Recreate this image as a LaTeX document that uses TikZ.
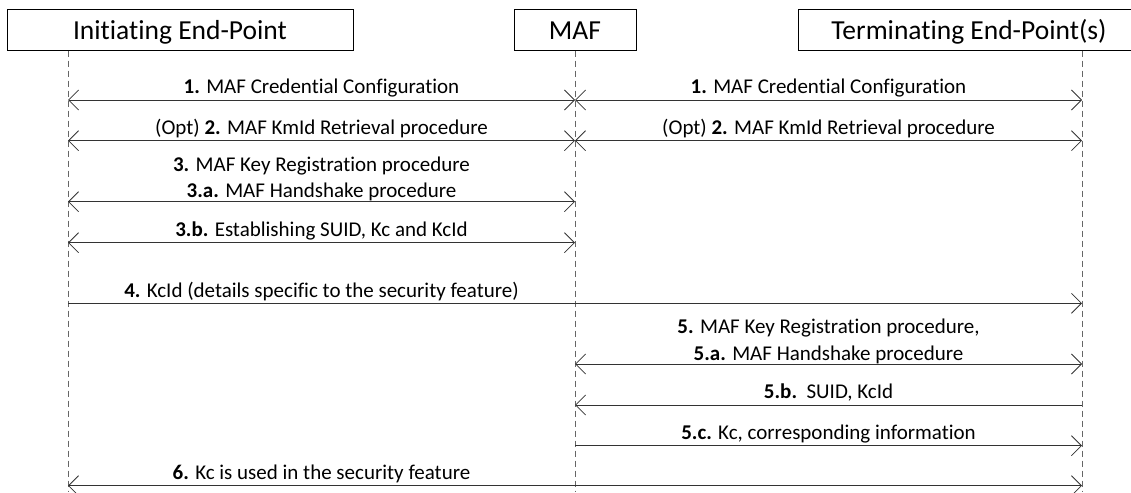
\documentclass[tikz,border=0pt]{standalone}
\usepackage{fontspec}
\setmainfont[Ligatures={NoCommon}]{Carlito}
\usetikzlibrary{arrows.meta}
\begin{document}
\begin{tikzpicture}[x=1pt,y=-1pt,
  >={Straight Barb[length=10pt,width=20pt]},
  head/.style={draw=black, line width=0.8pt, minimum height=41.4pt, inner sep=0pt,
    text height=26pt, text depth=6pt, font=\fontsize{27.5}{31}\selectfont},
  life/.style={draw=black!60, line width=0.8pt, dash pattern=on 6.5pt off 3.5pt},
  msg/.style={draw=black!80, line width=0.8pt},
  lbl/.style={anchor=south, inner sep=0pt, text depth=6pt, font=\fontsize{21}{26.5}\selectfont},
  lbltwo/.style={anchor=south, inner sep=0pt, align=center, font=\fontsize{21}{26.5}\selectfont}]
\useasboundingbox (0,0) rectangle (1131,492);
% header boxes
\node[head, minimum width=346pt] (ie) at (180,30) {Initiating End-Point};
\node[head, minimum width=122pt] (maf) at (575,30) {MAF};
\node[head, minimum width=342pt] (te) at (969,30) {Terminating End-Point(s)};
% lifelines
\coordinate (ieT) at (68,50.7);
\coordinate (ieB) at (68,492);
\coordinate (mafT) at (575,50.7);
\coordinate (mafB) at (575,492);
\coordinate (teT) at (1082,50.7);
\coordinate (teB) at (1082,492);
\draw[life] (ieT) -- (ieB);
\draw[life] (mafT) -- (mafB);
\draw[life] (teT) -- (teB);
% message rows
\coordinate (r1) at (0,100);
\coordinate (r2) at (0,140.7);
\coordinate (r3a) at (0,201.7);
\coordinate (r3b) at (0,242.7);
\coordinate (r4) at (0,303.3);
\coordinate (r5a) at (0,364);
\coordinate (r5b) at (0,405);
\coordinate (r5c) at (0,445.7);
\coordinate (r6) at (0,485.7);
% messages
\draw[msg,<->] (ieT |- r1) -- node[lbl] (l1a) {\textbf{1.} MAF Credential Configuration} (mafT |- r1);
\draw[msg,<->] (mafT |- r1) -- node[lbl] (l1b) {\textbf{1.} MAF Credential Configuration} (teT |- r1);
\draw[msg,<->] (ieT |- r2) -- node[lbl] (l2a) {(Opt) \textbf{2.} MAF KmId Retrieval procedure} (mafT |- r2);
\draw[msg,<->] (mafT |- r2) -- node[lbl] (l2b) {(Opt) \textbf{2.} MAF KmId Retrieval procedure} (teT |- r2);
\draw[msg,<->] (ieT |- r3a) -- node[lbltwo] (l3a) {\textbf{3.} MAF Key Registration procedure\\\textbf{3.a.} MAF Handshake procedure} (mafT |- r3a);
\draw[msg,<->] (ieT |- r3b) -- node[lbl] (l3b) {\textbf{3.b.} Establishing SUID, Kc and KcId} (mafT |- r3b);
\draw[msg,->] (ieT |- r4) -- (teT |- r4);
\path (ieT |- r4) -- node[lbl] (l4) {\textbf{4.} KcId (details specific to the security feature)} (mafT |- r4);
\draw[msg,<->] (mafT |- r5a) -- node[lbltwo] (l5a) {\textbf{5.} MAF Key Registration procedure,\\\textbf{5.a.} MAF Handshake procedure} (teT |- r5a);
\draw[msg,<-] (mafT |- r5b) -- node[lbl] (l5b) {\textbf{5.b.}\ \ SUID, KcId} (teT |- r5b);
\draw[msg,->] (mafT |- r5c) -- node[lbl] (l5c) {\textbf{5.c.} Kc, corresponding information} (teT |- r5c);
\draw[msg,<->] (ieT |- r6) -- (teT |- r6);
\path (ieT |- r6) -- node[lbl] (l6) {\textbf{6.} Kc is used in the security feature} (mafT |- r6);
\end{tikzpicture}
\end{document}
